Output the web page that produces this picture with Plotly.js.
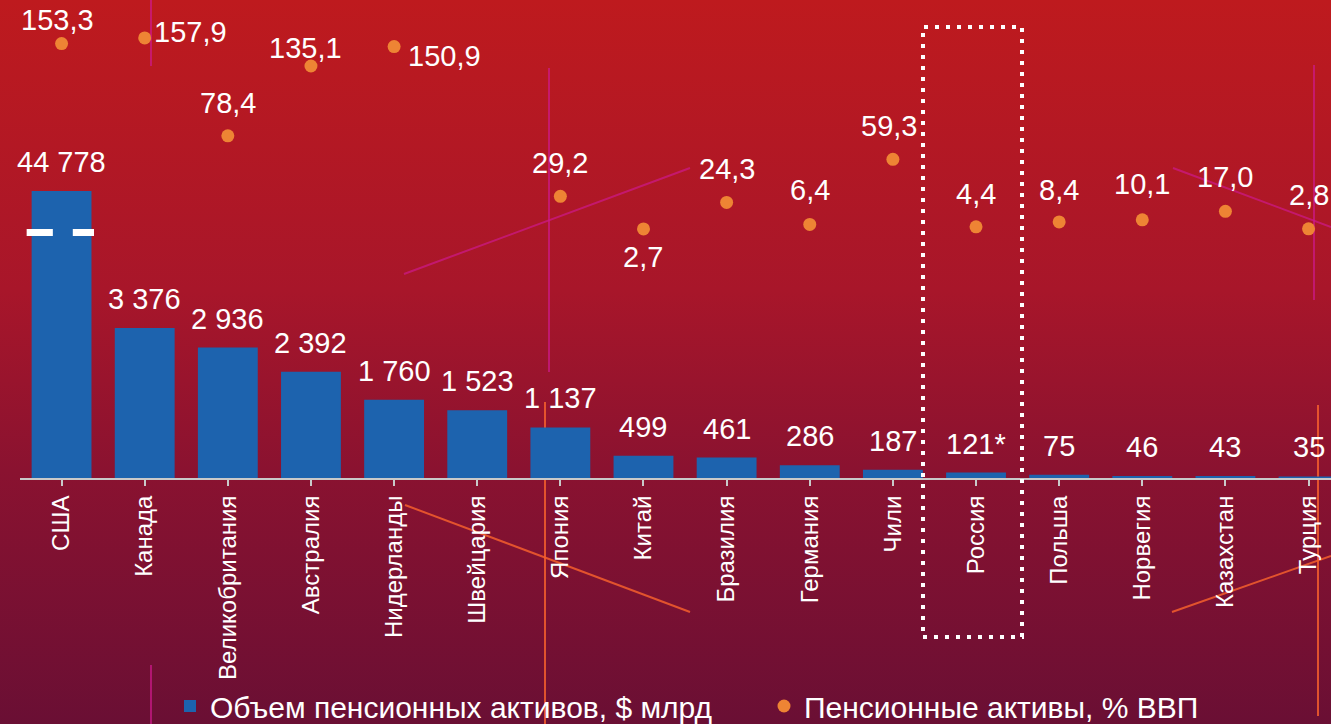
<!DOCTYPE html>
<html>
<head>
<meta charset="utf-8">
<script src="https://cdn.plot.ly/plotly-3.0.1.min.js"></script>
<style>
  html, body { margin: 0; padding: 0; }
  body {
    width: 1331px; height: 724px; overflow: hidden;
    background: linear-gradient(to bottom, #be1a1e 0%, #a8162a 40%, #8a1230 65%, #6a0f34 100%);
  }
  #chart { width: 1331px; height: 724px; }
</style>
</head>
<body>
<div id="chart"></div>
<script>
// ---------- data ----------
const categories = ['США','Канада','Великобритания','Австралия','Нидерланды','Швейцария','Япония','Китай','Бразилия','Германия','Чили','Россия','Польша','Норвегия','Казахстан','Турция'];
const assetsBn = [44778, 3376, 2936, 2392, 1760, 1523, 1137, 499, 461, 286, 187, 121, 75, 46, 43, 35];
const assetsNote = ['', '', '', '', '', '', '', '', '', '', '', '*', '', '', '', ''];
const assetsPctGdp = [153.3, 157.9, 78.4, 135.1, 150.9, null, 29.2, 2.7, 24.3, 6.4, 59.3, 4.4, 8.4, 10.1, 17.0, 2.8];
const seriesNames = ['Объем пенсионных активов, $ млрд', 'Пенсионные активы, % ВВП'];
const highlighted = 'Россия';

// ---------- style ----------
const FONT = '"Liberation Sans", Arial, Helvetica, sans-serif';
const BAR_COLOR = '#1d63ae';
const DOT_COLOR = '#ee8434';
const W = 1331, H = 724;
const M = {l: 20, r: 0, t: 0, b: 246};
const plotW = W - M.l - M.r, plotH = H - M.t - M.b;
const BAR_DOMAIN_TOP = 287 / plotH;   // the bar panel ends where the US bar is cut
const Y_MAX = 6460;                   // broken axis: the US bar is cut at the top
const Y2_RANGE = [-199.6, 188.7];
const X_RANGE = [-0.5, 15.27];

// label placement for the % GDP labels (style only)
const pctLabelStyle = [
  {xa: 'center', dx: -4, dy: 24},
  {xa: 'left',   dx: 7,  dy: 6},
  {xa: 'center', dx: 0,  dy: 33},
  {xa: 'center', dx: -5, dy: 18},
  {xa: 'left',   dx: 12, dy: -9},
  null,
  {xa: 'center', dx: 0,  dy: 33},
  {xa: 'center', dx: 0,  dy: -28},
  {xa: 'center', dx: 0,  dy: 33},
  {xa: 'center', dx: 0,  dy: 34},
  {xa: 'center', dx: -4, dy: 33},
  {xa: 'center', dx: 0,  dy: 33},
  {xa: 'center', dx: 0,  dy: 32},
  {xa: 'center', dx: 0,  dy: 36},
  {xa: 'center', dx: 0,  dy: 34},
  {xa: 'center', dx: 0,  dy: 34}
];

const fmtInt = v => String(v).replace(/\B(?=(\d{3})+(?!\d))/g, ' ');
const fmtPct = v => v.toFixed(1).replace('.', ',');
const px2x = px => (px - M.l) / plotW;
const py2y = py => (H - M.b - py) / plotH;

// ---------- traces ----------
const xIdx = categories.map((c, i) => i);
const bars = {
  type: 'bar', name: seriesNames[0],
  x: xIdx, y: assetsBn, width: 0.72,
  marker: {color: BAR_COLOR, line: {width: 0}},
  hoverinfo: 'skip'
};
const dots = {
  type: 'scatter', mode: 'markers', name: seriesNames[1],
  x: xIdx, y: assetsPctGdp, yaxis: 'y2',
  marker: {color: DOT_COLOR, size: 13},
  cliponaxis: false, hoverinfo: 'skip'
};

// ---------- annotations ----------
const annotations = [];
assetsBn.forEach((v, i) => {
  annotations.push({
    x: i, y: Math.min(v, Y_MAX), xref: 'x', yref: 'y',
    text: fmtInt(v) + assetsNote[i], showarrow: false,
    yanchor: 'bottom', xanchor: 'center', yshift: 11,
    font: {family: FONT, size: 29, color: '#ffffff'}
  });
});
assetsPctGdp.forEach((v, i) => {
  if (v === null) return;
  const s = pctLabelStyle[i];
  annotations.push({
    x: i, y: v, xref: 'x', yref: 'y2',
    text: fmtPct(v), showarrow: false,
    xanchor: s.xa, yanchor: 'middle', xshift: s.dx, yshift: s.dy,
    font: {family: FONT, size: 29, color: '#ffffff'}
  });
});

// ---------- shapes ----------
const shapes = [];
// decorative background strokes (pixel coords -> paper)
const deco = [
  [151, 0, 151, 66, 'm'], [151, 665, 151, 724, 'm'],
  [549, 68, 549, 372, 'm'], [404, 274, 690, 168, 'm'],
  [405, 505, 690, 612, 'o'], [545, 402, 545, 724, 'o'],
  [1173, 168, 1331, 227, 'm'], [1314, 65, 1314, 300, 'm'],
  [1318, 405, 1318, 716, 'o'], [1172, 612, 1331, 556, 'o']
];
deco.forEach(d => shapes.push({
  type: 'line', layer: 'below', xref: 'paper', yref: 'paper',
  x0: px2x(d[0]), y0: py2y(d[1]), x1: px2x(d[2]), y1: py2y(d[3]),
  line: {color: d[4] === 'm' ? 'rgba(205,25,140,0.7)' : 'rgba(245,95,45,0.85)', width: 2}
}));
// axis-break marks on the US bar
[[-0.42, -0.105], [0.135, 0.39]].forEach(r => shapes.push({
  type: 'rect', xref: 'x', yref: 'paper', layer: 'above',
  x0: r[0], x1: r[1], y0: py2y(236), y1: py2y(229),
  fillcolor: '#ffffff', line: {width: 0}
}));
// dotted frame around Russia
const ri = categories.indexOf(highlighted);
shapes.push({
  type: 'rect', xref: 'x', yref: 'paper', layer: 'above',
  x0: ri - 0.638, x1: ri + 0.553, y0: py2y(637), y1: py2y(27),
  fillcolor: 'rgba(0,0,0,0)',
  line: {color: '#ffffff', width: 4, dash: '4px,7px'}
});

// ---------- layout ----------
const layout = {
  width: W, height: H,
  margin: {l: M.l, r: M.r, t: M.t, b: M.b, autoexpand: false},
  paper_bgcolor: 'rgba(0,0,0,0)', plot_bgcolor: 'rgba(0,0,0,0)',
  font: {family: FONT, color: '#ffffff'},
  showlegend: true,
  xaxis: {
    range: X_RANGE, tickmode: 'array', tickvals: xIdx, ticktext: categories,
    tickangle: -90, tickfont: {family: FONT, size: 24, color: '#ffffff'},
    showline: true, linecolor: '#c9c9c9', linewidth: 2,
    ticks: 'outside', ticklen: 6, tickwidth: 2, tickcolor: '#c9c9c9',
    showgrid: false, zeroline: false, fixedrange: true, anchor: 'y'
  },
  yaxis: {domain: [0, BAR_DOMAIN_TOP], range: [0, Y_MAX], visible: false,
          showgrid: false, zeroline: false, fixedrange: true, anchor: 'x'},
  yaxis2: {domain: [0, 1], range: Y2_RANGE, visible: false,
           showgrid: false, zeroline: false, fixedrange: true, anchor: 'x'},
  legend: {
    orientation: 'h', xanchor: 'left', x: px2x(170), yanchor: 'middle', y: py2y(706),
    font: {family: FONT, size: 30, color: '#ffffff'},
    bgcolor: 'rgba(0,0,0,0)', entrywidth: 549, entrywidthmode: 'pixels',
    itemclick: false, itemdoubleclick: false
  },
  annotations: annotations,
  shapes: shapes
};

Plotly.newPlot('chart', [bars, dots], layout, {displayModeBar: false, staticPlot: true});
</script>
</body>
</html>
